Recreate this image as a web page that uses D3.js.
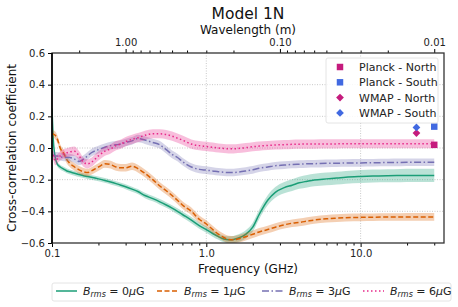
<!DOCTYPE html>
<html>
<head>
<meta charset="utf-8">
<script src="https://cdn.jsdelivr.net/npm/d3@7"></script>
<style>
body{margin:0;background:#fff;font-family:"DejaVu Sans",sans-serif;}
.tick text{font-family:"DejaVu Sans",sans-serif;font-size:10px;fill:#222;}
</style>
</head>
<body>
<svg id="svg" width="458" height="307"></svg>
<script>
// frequency grid (GHz)
var freq=[0.1,0.102,0.105,0.108,0.113,0.12,0.125,0.13,0.14,0.15,0.16,0.17,0.18,0.2,0.22,0.24,0.26,0.28,0.3,0.33,0.36,0.4,0.45,0.5,0.55,0.6,0.65,0.7,0.8,0.9,1.0,1.1,1.2,1.3,1.4,1.5,1.6,1.8,2.0,2.2,2.5,2.8,3.2,3.6,4,4.5,5,6,7,8,10,12,15,18,22,26,30];

var b0=[0.25,0.05,-0.06,-0.1,-0.12,-0.135,-0.145,-0.15,-0.16,-0.168,-0.175,-0.18,-0.185,-0.195,-0.205,-0.215,-0.225,-0.235,-0.245,-0.26,-0.275,-0.3,-0.32,-0.34,-0.36,-0.38,-0.4,-0.42,-0.455,-0.49,-0.515,-0.54,-0.56,-0.575,-0.58,-0.578,-0.57,-0.545,-0.5,-0.42,-0.33,-0.28,-0.25,-0.235,-0.22,-0.21,-0.202,-0.195,-0.19,-0.185,-0.18,-0.177,-0.175,-0.174,-0.173,-0.173,-0.173];
var b1=[0.09,0.088,0.08,0.06,0.0,-0.04,-0.075,-0.095,-0.12,-0.138,-0.15,-0.155,-0.145,-0.12,-0.1,-0.105,-0.12,-0.125,-0.125,-0.115,-0.13,-0.16,-0.2,-0.24,-0.27,-0.3,-0.33,-0.36,-0.4,-0.45,-0.48,-0.515,-0.545,-0.565,-0.578,-0.58,-0.575,-0.56,-0.545,-0.53,-0.515,-0.5,-0.485,-0.475,-0.47,-0.462,-0.455,-0.447,-0.443,-0.44,-0.438,-0.437,-0.436,-0.436,-0.435,-0.435,-0.435];
var b3=[-0.04,-0.045,-0.05,-0.05,-0.055,-0.06,-0.06,-0.06,-0.07,-0.085,-0.07,-0.05,-0.03,-0.01,0.005,0.015,0.02,0.025,0.035,0.045,0.06,0.05,0.035,0.02,-0.01,-0.04,-0.06,-0.085,-0.12,-0.135,-0.14,-0.145,-0.15,-0.153,-0.155,-0.155,-0.152,-0.145,-0.138,-0.128,-0.12,-0.112,-0.108,-0.104,-0.102,-0.1,-0.099,-0.097,-0.096,-0.095,-0.094,-0.093,-0.092,-0.091,-0.09,-0.09,-0.09];
var b6=[-0.02,-0.05,-0.08,-0.07,-0.05,-0.035,-0.03,-0.025,-0.02,-0.05,-0.09,-0.1,-0.09,-0.05,-0.02,-0.005,0.015,0.025,0.04,0.055,0.065,0.08,0.09,0.09,0.085,0.075,0.062,0.05,0.025,0.015,0.01,0.005,0.0,-0.003,-0.005,-0.005,-0.003,0.002,0.008,0.012,0.016,0.019,0.021,0.023,0.024,0.025,0.025,0.026,0.026,0.027,0.027,0.027,0.027,0.027,0.027,0.027,0.027];

// band half-widths
var e0=[0.015,0.015,0.015,0.015,0.015,0.015,0.015,0.015,0.015,0.015,0.015,0.015,0.015,0.015,0.015,0.015,0.015,0.015,0.016,0.016,0.016,0.017,0.017,0.018,0.018,0.018,0.019,0.019,0.02,0.02,0.02,0.02,0.02,0.021,0.022,0.023,0.024,0.026,0.028,0.03,0.032,0.034,0.036,0.037,0.038,0.039,0.039,0.04,0.04,0.04,0.041,0.041,0.041,0.042,0.042,0.042,0.042];
var eOrange=0.024, ePurple=0.024, ePink=0.029;

var seriesNames=["0","1","3","6"];
var seriesColors=["#1b9e77","#d95f02","#7570b3","#e7298a"];
var seriesDash=["none","5,2.5","7,2.5,1.5,2.5","1.5,2.5"];

// observed points
var obsNames=["Planck - North","Planck - South","WMAP - North","WMAP - South"];
var obsFreq=[30,30,23,23];
var obsVal=[0.02,0.135,0.094,0.13];
var obsColor=["#c51b7d","#4169e1","#c51b7d","#4169e1"];
var obsShape=["square","square","diamond","diamond"];

var yTicks=[-0.6,-0.4,-0.2,0.0,0.2,0.4,0.6];
var xTicks=[0.1,1,10];
var wlTicks=[1,0.1,0.01];

var pL=52,pT=53,pR=444,pB=243;
var svg=d3.select("#svg");

var x=d3.scaleLog().domain([0.1,34.7]).range([pL,pR]);
var y=d3.scaleLinear().domain([-0.6,0.6]).range([pB,pT]);

var series=[b0,b1,b3,b6].map(function(v,i){
    var err=[e0,null,null,null][i];
    var ce=[0,eOrange,ePurple,ePink][i];
    return freq.map(function(f,j){return {f:f,v:v[j],e:err?err[j]:ce};});
});

// grid
svg.append("g").selectAll("line").data(yTicks.slice(1,-1)).enter().append("line")
    .attr("x1",pL).attr("x2",pR).attr("y1",d=>y(d)).attr("y2",d=>y(d))
    .style("stroke","#bbb").style("stroke-width",0.8).style("stroke-dasharray","1,1.5");
svg.append("g").selectAll("line").data([1,10]).enter().append("line")
    .attr("x1",d=>x(d)).attr("x2",d=>x(d)).attr("y1",pT).attr("y2",pB)
    .style("stroke","#bbb").style("stroke-width",0.8).style("stroke-dasharray","1,1.5");

svg.append("clipPath").attr("id","clip").append("rect")
    .attr("x",pL).attr("y",pT).attr("width",pR-pL).attr("height",pB-pT);
var plot=svg.append("g").attr("clip-path","url(#clip)");

var area=d3.area().x(d=>x(d.f)).y0(d=>y(d.v-d.e)).y1(d=>y(d.v+d.e)).curve(d3.curveMonotoneX);
var line=d3.line().x(d=>x(d.f)).y(d=>y(d.v)).curve(d3.curveMonotoneX);

series.forEach(function(s,i){
    plot.append("path").datum(s).attr("d",area)
        .style("fill",seriesColors[i]).style("opacity",0.3);
    plot.append("path").datum(s).attr("d",line)
        .style("fill","none").style("stroke",seriesColors[i])
        .style("stroke-width",1.5).style("stroke-dasharray",seriesDash[i]);
});

var sq=d3.symbol().type(d3.symbolSquare).size(42);
var dm=d3.symbol().type(d3.symbolSquare).size(30);
svg.append("g").selectAll("path").data(obsFreq).enter().append("path")
    .attr("transform",(d,i)=>"translate("+x(d)+","+y(obsVal[i])+")"+(obsShape[i]=="diamond"?" rotate(45)":""))
    .attr("d",(d,i)=>obsShape[i]=="square"?sq():dm())
    .style("fill",(d,i)=>obsColor[i]);

// axes
var fmt1=d3.format(".1f");
var minorX=[];
[0.1,1,10].forEach(function(dec){for(var k=2;k<=9;k++){if(dec*k<=34.7)minorX.push(dec*k);}});
svg.append("g").attr("transform","translate(0,"+pB+")")
    .call(d3.axisBottom(x).tickValues(minorX).tickSize(2.5).tickFormat(""))
    .call(g=>g.select(".domain").remove());
svg.append("g").attr("transform","translate(0,"+pB+")")
    .call(d3.axisBottom(x).tickValues(xTicks).tickSize(4).tickPadding(3).tickFormat(d=>fmt1(d)))
    .call(g=>g.select(".domain").remove());

var minorW=[];
[0.01,0.1,1].forEach(function(dec){for(var k=2;k<=9;k++){var w=dec*k,f=0.3/w;if(f>=0.1&&f<=34.7)minorW.push(f);}});
svg.append("g").attr("transform","translate(0,"+pT+")")
    .call(d3.axisTop(x).tickValues(minorW).tickSize(2.5).tickFormat(""))
    .call(g=>g.select(".domain").remove());
svg.append("g").attr("transform","translate(0,"+pT+")")
    .call(d3.axisTop(x).tickValues(wlTicks.map(w=>0.3/w)).tickSize(4).tickPadding(3)
        .tickFormat((d,i)=>d3.format(".2f")(wlTicks[i])))
    .call(g=>g.select(".domain").remove());

svg.append("g").attr("transform","translate("+pL+",0)")
    .call(d3.axisLeft(y).tickValues(yTicks).tickSize(4).tickPadding(3)
        .tickFormat(d=>fmt1(d).replace("-","\u2212")))
    .call(g=>g.select(".domain").remove());

svg.append("rect").attr("x",pL).attr("y",pT).attr("width",pR-pL).attr("height",pB-pT)
    .style("fill","none").style("stroke","#333").style("stroke-width",1.3);
svg.append("line").attr("x1",pL).attr("x2",pL).attr("y1",pT).attr("y2",pB)
    .style("stroke","#000").style("stroke-width",1.6);

// titles
svg.append("text").attr("x",(pL+pR)/2).attr("y",19).attr("text-anchor","middle")
    .style("font-size","15.5px").style("fill","#111").text("Model 1N");
svg.append("text").attr("x",(pL+pR)/2).attr("y",34).attr("text-anchor","middle")
    .style("font-size","12px").style("fill","#111").text("Wavelength (m)");
svg.append("text").attr("x",(pL+pR)/2).attr("y",273).attr("text-anchor","middle")
    .style("font-size","12px").style("fill","#111").text("Frequency (GHz)");
svg.append("text").attr("transform","translate(16,"+((pT+pB)/2)+") rotate(-90)")
    .attr("text-anchor","middle").style("font-size","12px").style("fill","#111")
    .text("Cross-correlation coefficient");

// upper legend
var lg=svg.append("g");
lg.append("rect").attr("x",326).attr("y",58).attr("width",112).attr("height",65).attr("rx",2)
    .style("fill","#fff").style("fill-opacity",0.85).style("stroke","#ddd").style("stroke-width",0.8);
obsNames.forEach(function(n,i){
    var yy=67+i*15.3;
    lg.append("path").attr("transform","translate(340,"+yy+")"+(obsShape[i]=="diamond"?" rotate(45)":""))
        .attr("d",obsShape[i]=="square"?sq():dm())
        .style("fill",obsColor[i]);
    lg.append("text").attr("x",359).attr("y",yy+4).style("font-size","11px").style("fill","#222").text(n);
});

// bottom legend
var bl=svg.append("g");
bl.append("rect").attr("x",52).attr("y",283).attr("width",399).attr("height",18).attr("rx",2)
    .style("fill","#fff").style("stroke","#ddd").style("stroke-width",0.8);
var lx=[56,157,262,363];
seriesNames.forEach(function(n,i){
    bl.append("line").attr("x1",lx[i]).attr("x2",lx[i]+21).attr("y1",291).attr("y2",291)
        .style("stroke",seriesColors[i]).style("stroke-width",1.5).style("stroke-dasharray",seriesDash[i]);
    var t=bl.append("text").attr("x",lx[i]+27).attr("y",295).style("font-size","11px").style("fill","#222");
    t.append("tspan").style("font-style","italic").text("B");
    t.append("tspan").style("font-style","italic").style("font-size","8px").attr("dy",2).text("rms");
    t.append("tspan").attr("dy",-2).text(" = "+n);
    t.append("tspan").style("font-style","italic").text("\u03bc");
    t.append("tspan").text("G");
});
</script>
</body>
</html>
